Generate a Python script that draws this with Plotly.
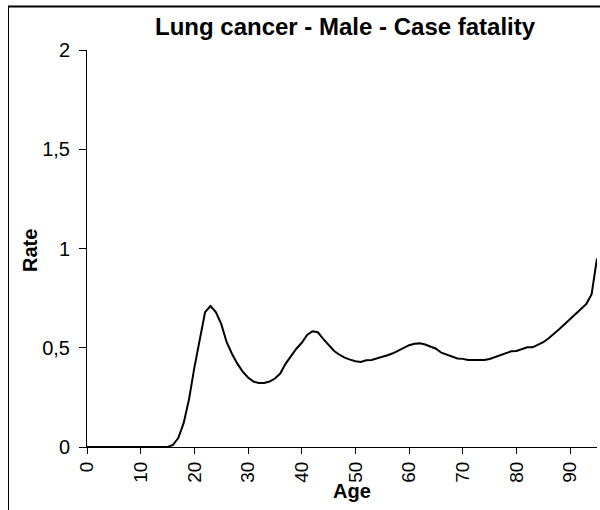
import plotly.graph_objects as go

ages = list(range(0, 96))
rate = [0]*16 + [
    0.01, 0.045, 0.12, 0.24, 0.40, 0.54, 0.68, 0.71, 0.68, 0.62,   # 16-25
    0.53, 0.47, 0.42, 0.38, 0.35, 0.33, 0.322, 0.322, 0.33, 0.345,  # 26-35
    0.37, 0.42, 0.46, 0.495, 0.525, 0.565, 0.583, 0.578, 0.545, 0.515,  # 36-45
    0.485, 0.465, 0.45, 0.44, 0.432, 0.428, 0.437, 0.438, 0.445, 0.455,  # 46-55
    0.462, 0.472, 0.487, 0.502, 0.513, 0.52, 0.522, 0.516, 0.507, 0.495,  # 56-65
    0.475, 0.465, 0.455, 0.446, 0.444, 0.438, 0.438, 0.438, 0.438, 0.443,  # 66-75
    0.452, 0.462, 0.472, 0.482, 0.484, 0.495, 0.502, 0.502, 0.517, 0.528,  # 76-85
    0.548, 0.57, 0.595, 0.62, 0.645, 0.668, 0.695, 0.72, 0.77, 0.95,  # 86-95
]
x_ticks = list(range(0, 100, 10))
y_ticks = [0, 0.5, 1, 1.5, 2]

title_text = "Lung cancer - Male - Case fatality"
x_title = "Age"
y_title = "Rate"

FONT = "Liberation Sans, Arial, sans-serif"

fig = go.Figure()
fig.add_trace(go.Scatter(x=ages, y=rate, mode="lines",
                         line=dict(color="black", width=2), showlegend=False))

fig.update_layout(
    width=600, height=510,
    margin=dict(l=87, r=3, t=50, b=63),
    paper_bgcolor="white", plot_bgcolor="white",
    separators=", ",
    font=dict(family=FONT, size=20, color="black"),
    xaxis=dict(range=[0, 95], tickmode="array", tickvals=x_ticks,
               ticktext=[str(v) for v in x_ticks], tickangle=-90,
               showgrid=False, zeroline=False, showline=True,
               linecolor="black", linewidth=1, ticks="outside",
               ticklen=6, tickcolor="black", tickfont=dict(size=19),
               automargin=False),
    yaxis=dict(range=[0, 2], tickmode="array", tickvals=y_ticks,
               showgrid=False, zeroline=False, showline=True,
               linecolor="black", linewidth=1, ticks="outside",
               ticklen=7, tickcolor="black", tickfont=dict(size=20),
               ticklabelstandoff=5, automargin=False),
    annotations=[
        dict(text="<b>" + title_text + "</b>", xref="paper", yref="paper",
             x=0.506, y=1.06, showarrow=False, font=dict(size=24),
             xanchor="center", yanchor="middle"),
        dict(text="<b>" + x_title + "</b>", xref="paper", yref="paper",
             x=0.52, y=-0.11, showarrow=False, font=dict(size=20),
             xanchor="center", yanchor="middle"),
        dict(text="<b>" + y_title + "</b>", xref="paper", yref="paper",
             x=-0.112, y=0.496, showarrow=False, font=dict(size=20),
             textangle=-90, xanchor="center", yanchor="middle"),
    ],
    shapes=[
        dict(type="line", xref="paper", yref="paper",
             x0=-0.1539, y0=-0.2, x1=-0.1539, y1=1.1121,
             line=dict(color="black", width=1)),
        dict(type="line", xref="paper", yref="paper",
             x0=-0.1539, y0=1.1096, x1=1.006, y1=1.1096,
             line=dict(color="black", width=2)),
    ],
)

fig.write_html("out.html", config={"displayModeBar": False},
               post_script="document.body.style.margin='0';")
